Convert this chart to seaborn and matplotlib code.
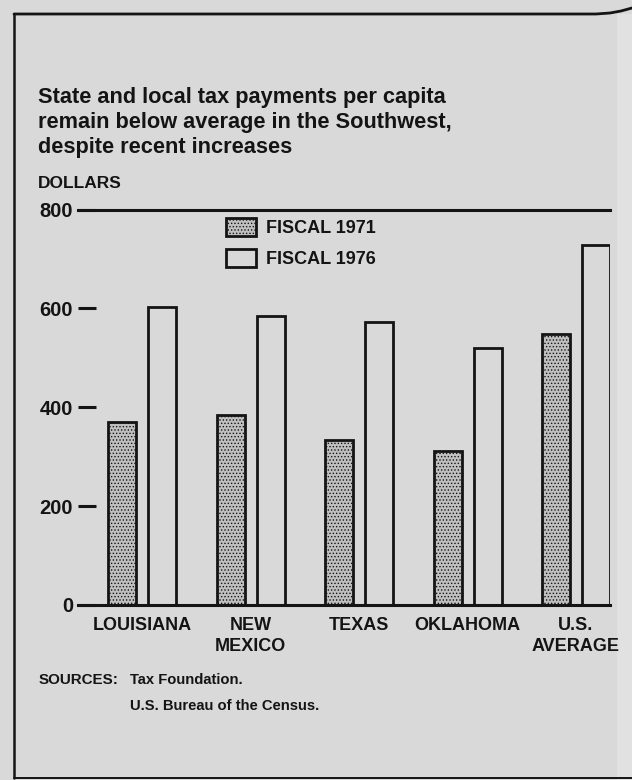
import matplotlib
matplotlib.use("Agg")
import matplotlib.pyplot as plt
from matplotlib.lines import Line2D
from matplotlib.patches import Patch, Rectangle
import pandas as pd
import seaborn as sns

# Per-capita state and local tax payments, dollars
states = ["LOUISIANA", "NEW\nMEXICO", "TEXAS", "OKLAHOMA", "U.S.\nAVERAGE"]
fiscal_1971 = [371, 385, 334, 312, 549]
fiscal_1976 = [602, 584, 572, 520, 728]
years = ["FISCAL 1971", "FISCAL 1976"]
y_ticks = [0, 200, 400, 600, 800]
y_tick_labels = ["0", "200", "400", "600", "800"]

title = ("State and local tax payments per capita\n"
         "remain below average in the Southwest,\n"
         "despite recent increases")

W, H = 632, 780
BG = "#d9d9d9"
INK = "#141414"
STIPPLE = "#c0c0c0"

sns.set_theme(style="white")
plt.rcParams["font.family"] = ["Liberation Sans", "DejaVu Sans"]
plt.rcParams["font.weight"] = "bold"
plt.rcParams["hatch.linewidth"] = 0.6

df = pd.DataFrame({
    "state": states * 2,
    "year": [years[0]] * len(states) + [years[1]] * len(states),
    "dollars": fiscal_1971 + fiscal_1976,
})


def fx(px):
    return px / W


def fy(py):
    return 1 - py / H


fig = plt.figure(figsize=(W / 100, H / 100), dpi=100, facecolor=BG)
ax = fig.add_axes([fx(78), fy(605), (610 - 78) / W, (605 - 209.5) / H])
ax.set_facecolor(BG)

sns.barplot(data=df, x="state", y="dollars", hue="year", order=states,
            hue_order=years, palette=[STIPPLE, BG], saturation=1,
            width=0.737, gap=0.3, errorbar=None, edgecolor=INK,
            linewidth=2.0, legend=False, ax=ax)


def stipple(patch):
    patch.set_hatch(".....")
    if hasattr(patch, "set_hatchcolor"):
        patch.set_hatchcolor("#858585")


for bar in ax.containers[0]:
    stipple(bar)

ax.set_xlim(-0.594, 4.3135)
ax.set_ylim(0, 800)
ax.set_xlabel("")
ax.set_ylabel("")
for side in ("left", "right"):
    ax.spines[side].set_visible(False)
for side in ("top", "bottom"):
    ax.spines[side].set_visible(True)
    ax.spines[side].set_color(INK)
    ax.spines[side].set_linewidth(2.2)

ax.set_yticks(y_ticks)
ax.set_yticklabels(y_tick_labels)
ax.tick_params(axis="y", left=True, direction="in", length=13, width=2.2,
               pad=3.6, labelsize=14.5, colors=INK)
ax.set_xticks(range(len(states)))
ax.set_xticklabels(states)
ax.tick_params(axis="x", bottom=False, length=0, pad=8.5, labelsize=13,
               colors=INK)
for lab in ax.get_xticklabels():
    lab.set_linespacing(1.3)

# Legend
h71 = Patch(facecolor=STIPPLE, edgecolor=INK, linewidth=2.0, label=years[0])
stipple(h71)
h76 = Patch(facecolor=BG, edgecolor=INK, linewidth=2.0, label=years[1])
fig.legend(handles=[h71, h76], loc="upper left",
           bbox_to_anchor=(fx(226), fy(218)), frameon=False, borderpad=0,
           borderaxespad=0, handlelength=1.65, handleheight=1.15,
           handletextpad=0.55, labelspacing=0.65, fontsize=13,
           labelcolor=INK)

# Titles and notes
fig.text(fx(38), fy(87), title, ha="left", va="top", fontsize=15.7,
         linespacing=1.24, color=INK)
fig.text(fx(38), fy(184), "DOLLARS", ha="left", va="center", fontsize=12.5,
         color=INK)
fig.text(fx(39), fy(680), "SOURCES:", ha="left", va="center", fontsize=10.9,
         color=INK)
fig.text(fx(130), fy(680), "Tax Foundation.", ha="left", va="center",
         fontsize=10.6, color=INK)
fig.text(fx(130), fy(706), "U.S. Bureau of the Census.", ha="left",
         va="center", fontsize=10.6, color=INK)

# Page frame
fig.add_artist(Rectangle((fx(617), 0), fx(632) - fx(617), fy(14),
                         transform=fig.transFigure, facecolor="#e1e1e1",
                         edgecolor="none", zorder=0))
fig.add_artist(Line2D([fx(14), fx(596), fx(610), fx(621), fx(632)],
                      [fy(14), fy(14), fy(13), fy(11), fy(8)],
                      transform=fig.transFigure, color=INK, linewidth=2.0))
fig.add_artist(Line2D([fx(14), fx(14)], [fy(14), fy(778)],
                      transform=fig.transFigure, color=INK, linewidth=1.8))
fig.add_artist(Line2D([fx(14), fx(632)], [fy(778), fy(778)],
                      transform=fig.transFigure, color=INK, linewidth=1.4))

fig.savefig("out.png", dpi=100, facecolor=BG)
